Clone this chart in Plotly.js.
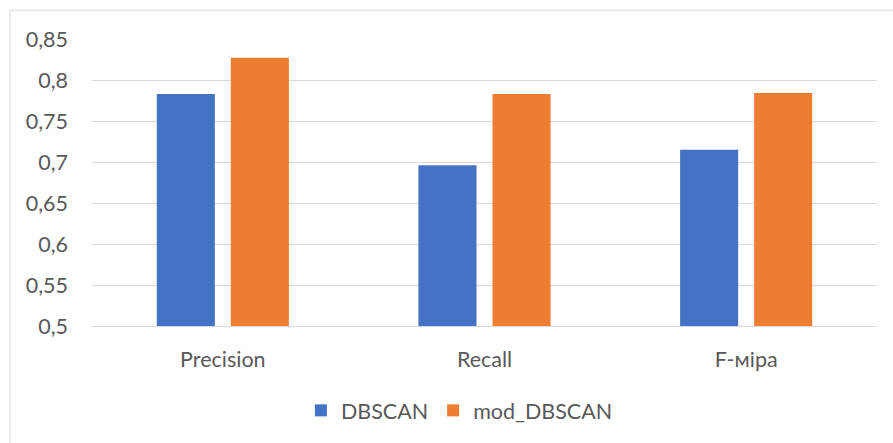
<!DOCTYPE html>
<html>
<head>
<meta charset="utf-8">
<script src="https://cdn.plot.ly/plotly-3.0.1.min.js"></script>
<style>html,body{margin:0;padding:0;background:#fff;}#chart{width:893px;height:443px;}</style>
</head>
<body>
<div id="chart"></div>
<script>
const categories = ["Precision", "Recall", "F-міра"];
const dbscan = [0.783, 0.696, 0.715];
const modDbscan = [0.827, 0.783, 0.784];
const yTicks = [0.5, 0.55, 0.6, 0.65, 0.7, 0.75, 0.8, 0.85];
const yTickText = ["0,5", "0,55", "0,6", "0,65", "0,7", "0,75", "0,8", "0,85"];

const font = {family: "Lato, 'Open Sans', sans-serif", size: 21.5, color: "#595959"};

const traces = [
  {type: "bar", name: "DBSCAN", x: categories, y: dbscan, marker: {color: "#4472C4"}},
  {type: "bar", name: "mod_DBSCAN", x: categories, y: modDbscan, marker: {color: "#ED7D31"}}
];

const layout = {
  width: 893, height: 443,
  margin: {l: 92, r: 16, t: 39, b: 115},
  paper_bgcolor: "#fff", plot_bgcolor: "#fff",
  font: font,
  barmode: "group",
  bargap: 0.434,
  bargroupgap: 0.216,
  xaxis: {
    type: "category",
    showgrid: false, showline: true, linecolor: "#d9d9d9", linewidth: 1,
    ticks: "", ticklabelstandoff: 14, tickfont: font, fixedrange: true
  },
  yaxis: {
    range: [0.5, 0.85],
    tickvals: yTicks, ticktext: yTickText,
    showgrid: true, gridcolor: "#d9d9d9", gridwidth: 1,
    zeroline: false, showline: false, ticks: "",
    ticklabelstandoff: 23, tickfont: font, fixedrange: true
  },
  showlegend: true,
  legend: {
    orientation: "h", x: 0.468, xanchor: "center", y: -0.294, yanchor: "middle",
    font: font, itemwidth: 30, traceorder: "normal"
  },
  shapes: [
    {type: "line", xref: "paper", yref: "paper", x0: -0.1045, x1: 1.1, y0: 1.1003, y1: 1.1003,
     line: {color: "#d9d9d9", width: 1}},
    {type: "line", xref: "paper", yref: "paper", x0: -0.1045, x1: -0.1045, y0: 1.1003, y1: -0.5,
     line: {color: "#d9d9d9", width: 1}}
  ]
};

Plotly.newPlot("chart", traces, layout, {displayModeBar: false, staticPlot: true});
</script>
</body>
</html>
